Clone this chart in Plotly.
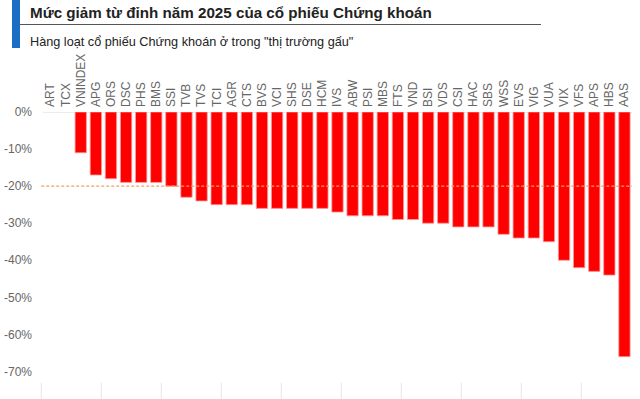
import plotly.graph_objects as go

categories = ["ART", "TCX", "VNINDEX", "APG", "ORS", "DSC", "PHS", "BMS", "SSI", "TVB",
              "TVS", "TCI", "AGR", "CTS", "BVS", "VCI", "SHS", "DSE", "HCM", "IVS",
              "ABW", "PSI", "MBS", "FTS", "VND", "BSI", "VDS", "CSI", "HAC", "SBS",
              "WSS", "EVS", "VIG", "VUA", "VIX", "VFS", "APS", "HBS", "AAS"]
declines = [None, None, -0.11, -0.17, -0.18, -0.19, -0.19, -0.19, -0.20, -0.23,
            -0.24, -0.25, -0.25, -0.25, -0.26, -0.26, -0.26, -0.26, -0.26, -0.27,
            -0.28, -0.28, -0.28, -0.29, -0.29, -0.30, -0.30, -0.31, -0.31, -0.31,
            -0.33, -0.34, -0.34, -0.35, -0.40, -0.42, -0.43, -0.44, -0.66]
threshold = -0.20
y_ticks = [0, -0.1, -0.2, -0.3, -0.4, -0.5, -0.6, -0.7]
y_ticklabels = ["0%", "-10%", "-20%", "-30%", "-40%", "-50%", "-60%", "-70%"]

title_text = "Mức giảm từ đỉnh năm 2025 của cổ phiếu Chứng khoán"
subtitle_text = "Hàng loạt cổ phiếu Chứng khoán ở trong \"thị trường gấu\""

W, H = 640, 399
L, R, T, B = 43, 8, 112, 0

fig = go.Figure()
fig.add_trace(go.Bar(
    x=categories, y=declines,
    marker=dict(color="#ff0000", line=dict(color="#ff9a9a", width=0.8)),
    hoverinfo="x+y",
))

fig.update_layout(
    width=W, height=H,
    margin=dict(l=L, r=R, t=T, b=B, autoexpand=False),
    paper_bgcolor="white", plot_bgcolor="white",
    showlegend=False,
    bargap=0.25,
    font=dict(family="Liberation Sans, Arial, sans-serif", size=12, color="#666666"),
    xaxis=dict(
        type="category", side="top", tickangle=-90,
        showgrid=False, showline=False, zeroline=False, ticks="",
        tickfont=dict(size=12, color="#666666"),
        ticklabelstandoff=4,
    ),
    yaxis=dict(
        range=[-(H - T) / 370.7, 0],
        tickvals=y_ticks, ticktext=y_ticklabels,
        showgrid=False, zeroline=False, showline=False, ticks="",
        tickfont=dict(size=12, color="#666666"),
        ticklabelstandoff=10,
    ),
)

# zero baseline
fig.add_shape(type="line", xref="paper", yref="y", x0=0, x1=1, y0=0, y1=0,
              line=dict(color="#d9d9d9", width=1), layer="below")
# threshold dashed line
fig.add_shape(type="line", xref="paper", yref="y", x0=-0.003, x1=1, y0=threshold, y1=threshold,
              line=dict(color="#f2a05e", width=1.2, dash="3px,2px"), layer="above")

# small vertical guide lines at the bottom (decorative)
pw = W - L - R
ph = H - T - B
for k in range(10):
    px = 41.3 + 60 * k
    xp = (px - L) / pw
    fig.add_shape(type="line", xref="paper", yref="paper", x0=xp, x1=xp,
                  y0=0, y1=(H - 383 - B) / ph,
                  line=dict(color="#e6e6e6", width=1))

# header decorations
fig.add_shape(type="rect", xref="paper", yref="paper",
              x0=(12 - L) / pw, x1=(20 - L) / pw,
              y0=(H - 48 - B) / ph, y1=(H - 0 - B) / ph,
              fillcolor="#1a6fc4", line=dict(width=0))
fig.add_shape(type="line", xref="paper", yref="paper",
              x0=(20 - L) / pw, x1=(541 - L) / pw,
              y0=(H - 24.5 - B) / ph, y1=(H - 24.5 - B) / ph,
              line=dict(color="#555555", width=1))

fig.add_annotation(text="<b>" + title_text + "</b>", xref="paper", yref="paper",
                   x=(28 - L) / pw, y=(H - 12 - B) / ph,
                   xanchor="left", yanchor="middle", showarrow=False,
                   font=dict(family="Liberation Sans, Arial, sans-serif", size=15.2, color="#222222"))
fig.add_annotation(text=subtitle_text, xref="paper", yref="paper",
                   x=(28 - L) / pw, y=(H - 42 - B) / ph,
                   xanchor="left", yanchor="middle", showarrow=False,
                   font=dict(family="Liberation Sans, Arial, sans-serif", size=12.7, color="#222222"))

fig.write_html("out.html", config={"displayModeBar": False},
               post_script="document.body.style.margin='0';document.body.style.overflow='hidden';")
